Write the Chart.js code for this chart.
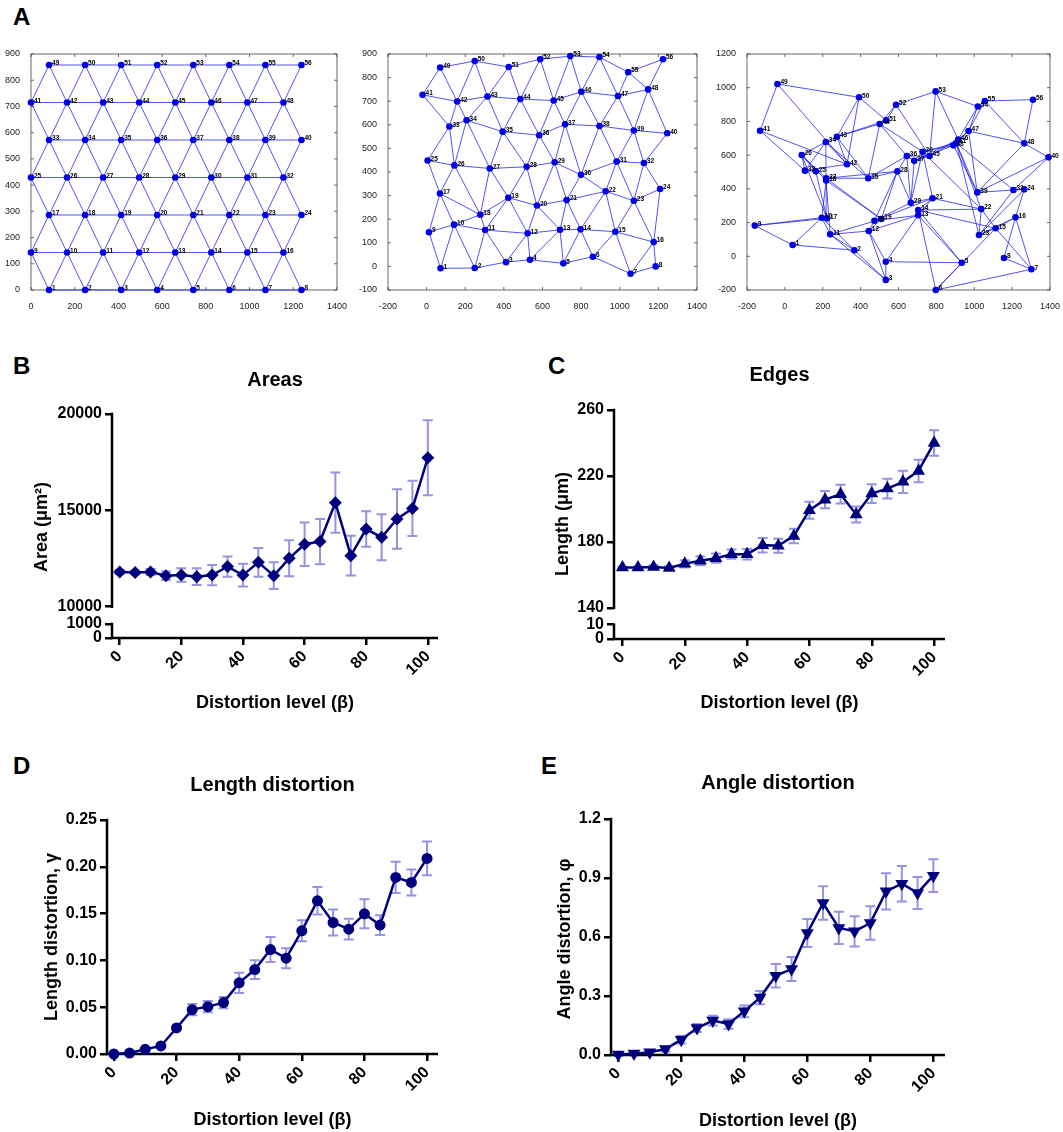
<!DOCTYPE html>
<html>
<head>
<meta charset="utf-8">
<script src="https://cdn.jsdelivr.net/npm/chart.js@4.4.1/dist/chart.umd.min.js"></script>
<style>
body { margin: 0; background: #fff; }
#fig { position: relative; width: 1063px; height: 1132px; overflow: hidden; font-family: "Liberation Sans", Arial, sans-serif; }
#fig canvas { position: absolute; }
.lbl { position: absolute; font-weight: bold; font-size: 24px; line-height: 24px; color: #000; }
</style>
</head>
<body>
<div id="fig">
  <div class="lbl" style="left:13px;top:5px">A</div>
  <div class="lbl" style="left:13px;top:354px">B</div>
  <div class="lbl" style="left:548px;top:354px">C</div>
  <div class="lbl" style="left:13px;top:754px">D</div>
  <div class="lbl" style="left:541px;top:754px">E</div>
  <canvas id="a1" width="350" height="270" style="left:0;top:40px"></canvas>
  <canvas id="a2" width="370" height="270" style="left:340px;top:40px"></canvas>
  <canvas id="a3" width="363" height="270" style="left:700px;top:40px"></canvas>
  <canvas id="b" width="530" height="400" style="left:0;top:330px"></canvas>
  <canvas id="c" width="533" height="400" style="left:530px;top:330px"></canvas>
  <canvas id="d" width="530" height="392" style="left:0;top:740px"></canvas>
  <canvas id="e" width="533" height="392" style="left:530px;top:740px"></canvas>
</div>
<script>
// ---- panel A: mesh node coordinates ----
var a1RowY = [0, 143, 286, 429, 572, 715, 858];
var a1OffsetX = [82.5, 247.5, 412.5, 577.5, 742.5, 907.5, 1072.5, 1237.5];
var a1EvenX = [0, 165, 330, 495, 660, 825, 990, 1155];

var a2X = [72, 249, 411, 535, 708, 861, 1056, 1186, 12, 142, 303, 523, 691, 797, 977, 1176,
           69, 278, 423, 571, 725, 927, 1073, 1209, 5, 144, 327, 518, 663, 799, 984, 1125,
           118, 207, 394, 583, 717, 895, 1073, 1246, -21, 158, 315, 485, 658, 801, 991, 1147,
           70, 249, 425, 588, 744, 895, 1044, 1224];
var a2Y = [-8, -7, 18, 28, 13, 41, -31, 0, 145, 177, 154, 140, 155, 157, 147, 103,
           309, 219, 291, 258, 281, 318, 278, 328, 449, 428, 415, 422, 441, 388, 444, 438,
           593, 619, 571, 556, 602, 595, 576, 564, 727, 699, 720, 709, 703, 740, 722, 750,
           843, 870, 845, 878, 891, 887, 823, 878];

var a3X = [41, 367, 533, 533, 934, 797, 1302, 1157, -159, 195, 239, 443, 704, 704, 1113, 1218,
           222, 218, 509, 473, 780, 1037, 1025, 1264, 163, 89, 218, 594, 665, 727, 905, 1207,
           106, 216, 440, 644, 683, 890, 1016, 1392, -131, 328, 275, 501, 764, 915, 970, 1264,
           -39, 392, 535, 587, 796, 1019, 1056, 1310];
var a3Y = [67, 36, -140, -32, -38, -200, -77, -10, 182, 229, 130, 150, 243, 274, 166, 231,
           225, 450, 221, 211, 344, 280, 126, 397, 504, 601, 463, 504, 318, 620, 672, 393,
           508, 678, 463, 595, 566, 658, 379, 587, 745, 546, 709, 785, 595, 692, 743, 670,
           1022, 943, 806, 899, 978, 889, 921, 929];

var a1XTicks = [0, 200, 400, 600, 800, 1000, 1200, 1400];
var a1YTicks = [0, 100, 200, 300, 400, 500, 600, 700, 800, 900];
var a2XTicks = [-200, 0, 200, 400, 600, 800, 1000, 1200, 1400];
var a2YTicks = [-100, 0, 100, 200, 300, 400, 500, 600, 700, 800, 900];
var a3XTicks = [-200, 0, 200, 400, 600, 800, 1000, 1200, 1400];
var a3YTicks = [-200, 0, 200, 400, 600, 800, 1000, 1200];

// ---- panels B-E ----
var distortion = [0, 5, 10, 15, 20, 25, 30, 35, 40, 45, 50, 55, 60, 65, 70, 75, 80, 85, 90, 95, 100];
var xTicks = [0, 20, 40, 60, 80, 100];

var areaMean = [11800, 11770, 11800, 11610, 11640, 11560, 11640, 12080, 11640, 12300, 11610,
                12510, 13240, 13380, 15400, 12650, 14030, 13600, 14550, 15100, 17730];
var areaErr = [100, 80, 160, 220, 350, 430, 530, 530, 590, 745, 690,
               935, 1125, 1175, 1560, 1030, 925, 1195, 1540, 1430, 1950];
var areaTicks = [10000, 15000, 20000];
var areaLowTicks = [0, 1000];

var edgeMean = [164.4, 164.4, 164.8, 164.2, 166.7, 168.5, 170.1, 172.5, 172.5, 178, 177.6,
                183.6, 199.2, 205.6, 208.9, 196.6, 209.3, 212.3, 216.4, 223, 240];
var edgeErr = [0.5, 0.5, 1, 1, 2.2, 2.7, 2.8, 2.8, 3.2, 4.4, 4.2,
               4.4, 5.2, 5.2, 5.7, 4.8, 5.7, 6, 6.7, 6.8, 7.7];
var edgeTicks = [140, 180, 220, 260];
var edgeLowTicks = [0, 10];

var lenMean = [0, 0.001, 0.005, 0.0086, 0.0278, 0.0474, 0.0506, 0.0549, 0.076, 0.0902, 0.1116,
               0.1024, 0.1316, 0.1637, 0.1405, 0.1334, 0.1498, 0.1377, 0.1887, 0.1833, 0.209];
var lenErr = [0, 0.001, 0.001, 0.0015, 0.002, 0.006, 0.006, 0.006, 0.0107, 0.01, 0.0134,
              0.0107, 0.0112, 0.0146, 0.014, 0.011, 0.0155, 0.0105, 0.0166, 0.0139, 0.018];
var lenTicks = [0, 0.05, 0.10, 0.15, 0.20, 0.25];

var angMean = [0.003, 0.007, 0.014, 0.03, 0.078, 0.137, 0.175, 0.158, 0.222, 0.292, 0.403,
               0.437, 0.62, 0.773, 0.646, 0.629, 0.671, 0.832, 0.871, 0.824, 0.912];
var angErr = [0.008, 0.008, 0.01, 0.012, 0.02, 0.02, 0.025, 0.024, 0.03, 0.034, 0.06,
              0.061, 0.071, 0.085, 0.082, 0.077, 0.085, 0.092, 0.09, 0.081, 0.083];
var angTicks = [0, 0.3, 0.6, 0.9, 1.2];

var family = '"Liberation Sans", Arial, Helvetica, sans-serif';
var navy = '#00007f';
var barColor = '#9494e0';
var nodeColor = '#0000e6';
var edgeColor = 'rgba(30,30,235,0.85)';

function tickList(arr) {
    return arr.map(function(v){ return {value: v}; });
}

// lattice connectivity: 7 rows of 8 nodes, even rows shifted half a cell
function latticeEdges() {
    var rows = 7, cols = 8, e = [];
    for (var r = 0; r < rows; r++) {
        for (var c = 0; c < cols; c++) {
            var i = r * cols + c;
            if (c < cols - 1) e.push([i, i + 1]);
            if (r < rows - 1) {
                var up = (r + 1) * cols;
                if (r % 2 == 0) {
                    e.push([i, up + c]);
                    if (c < cols - 1) e.push([i, up + c + 1]);
                } else {
                    if (c > 0) e.push([i, up + c - 1]);
                    e.push([i, up + c]);
                }
            }
        }
    }
    return e;
}
var edges = latticeEdges();

var a1X = [], a1Y = [];
for (var r = 0; r < a1RowY.length; r++) {
    var rowX = (r % 2 == 0) ? a1OffsetX : a1EvenX;
    for (var c = 0; c < rowX.length; c++) {
        a1X.push(rowX[c]);
        a1Y.push(a1RowY[r]);
    }
}

var meshBox = {
    id: 'meshBox',
    beforeDatasetsDraw: function(chart) {
        var a = chart.chartArea, ctx = chart.ctx, sx = chart.scales.x, sy = chart.scales.y;
        ctx.save();
        ctx.strokeStyle = '#444';
        ctx.lineWidth = 0.8;
        ctx.strokeRect(a.left, a.top, a.right - a.left, a.bottom - a.top);
        ctx.beginPath();
        sx.ticks.forEach(function(t){
            var px = sx.getPixelForValue(t.value);
            ctx.moveTo(px, a.bottom); ctx.lineTo(px, a.bottom - 3);
            ctx.moveTo(px, a.top); ctx.lineTo(px, a.top + 3);
        });
        sy.ticks.forEach(function(t){
            var py = sy.getPixelForValue(t.value);
            ctx.moveTo(a.left, py); ctx.lineTo(a.left + 3, py);
            ctx.moveTo(a.right, py); ctx.lineTo(a.right - 3, py);
        });
        ctx.stroke();
        ctx.restore();
    }
};

var nodeLabels = {
    id: 'nodeLabels',
    afterDatasetsDraw: function(chart) {
        var ctx = chart.ctx;
        var meta = chart.getDatasetMeta(0);
        ctx.save();
        ctx.fillStyle = '#000';
        ctx.font = 'bold 6.5px ' + family;
        ctx.textAlign = 'left';
        ctx.textBaseline = 'middle';
        meta.data.forEach(function(pt, i){
            ctx.fillText(String(i + 1), pt.x + 3, pt.y - 1.5);
        });
        ctx.restore();
    }
};

function meshPanel(id, p) {
    var datasets = [{
        data: p.xs.map(function(x, i){ return {x: x, y: p.ys[i]}; }),
        showLine: false,
        pointRadius: 3.3,
        pointBackgroundColor: nodeColor,
        pointBorderWidth: 0,
        clip: false,
        order: 0
    }];
    edges.forEach(function(e){
        datasets.push({
            data: [{x: p.xs[e[0]], y: p.ys[e[0]]}, {x: p.xs[e[1]], y: p.ys[e[1]]}],
            showLine: true,
            borderColor: edgeColor,
            borderWidth: 0.9,
            pointRadius: 0,
            clip: false,
            order: 1
        });
    });
    var tickFont = {family: family, size: 9};
    new Chart(document.getElementById(id), {
        type: 'scatter',
        data: {datasets: datasets},
        options: {
            responsive: false,
            animation: false,
            events: [],
            layout: {autoPadding: false, padding: {left: 0, top: 14, right: p.padR, bottom: 0}},
            plugins: {legend: {display: false}, tooltip: {enabled: false}},
            scales: {
                x: {
                    type: 'linear', min: p.xTicks[0], max: p.xTicks[p.xTicks.length - 1],
                    afterBuildTicks: function(s){ s.ticks = tickList(p.xTicks); },
                    afterFit: function(s){ s.height = 20; },
                    ticks: {font: tickFont, color: '#222', padding: 3, maxRotation: 0, autoSkip: false,
                            callback: function(v){ return String(v); }},
                    grid: {display: false},
                    border: {display: false}
                },
                y: {
                    type: 'linear', min: p.yTicks[0], max: p.yTicks[p.yTicks.length - 1],
                    afterBuildTicks: function(s){ s.ticks = tickList(p.yTicks); },
                    afterFit: function(s){ s.width = p.yWidth; },
                    ticks: {font: tickFont, color: '#222', padding: 3, autoSkip: false,
                            callback: function(v){ return String(v); }},
                    grid: {display: false},
                    border: {display: false}
                }
            }
        },
        plugins: [meshBox, nodeLabels]
    });
}

meshPanel('a1', {xs: a1X, ys: a1Y, xTicks: a1XTicks, yTicks: a1YTicks, yWidth: 31, padR: 10});
meshPanel('a2', {xs: a2X, ys: a2Y, xTicks: a2XTicks, yTicks: a2YTicks, yWidth: 48, padR: 11});
meshPanel('a3', {xs: a3X, ys: a3Y, xTicks: a3XTicks, yTicks: a3YTicks, yWidth: 47, padR: 13});

// ---- B-E helpers ----
var errorBars = {
    id: 'errorBars',
    beforeDatasetsDraw: function(chart, args, opts) {
        var meta = chart.getDatasetMeta(0);
        var ys = chart.scales[meta.yAxisID];
        var ds = chart.data.datasets[0].data;
        var ctx = chart.ctx;
        ctx.save();
        ctx.strokeStyle = barColor;
        ctx.lineWidth = 2;
        ctx.beginPath();
        meta.data.forEach(function(pt, i){
            var v = ds[i].y, e = opts.err[i];
            if (!e) return;
            var top = ys.getPixelForValue(v + e), bot = ys.getPixelForValue(v - e);
            ctx.moveTo(pt.x, top); ctx.lineTo(pt.x, bot);
            ctx.moveTo(pt.x - 5, top); ctx.lineTo(pt.x + 5, top);
            ctx.moveTo(pt.x - 5, bot); ctx.lineTo(pt.x + 5, bot);
        });
        ctx.stroke();
        ctx.restore();
    }
};

var axisLines = {
    id: 'axisLines',
    beforeDatasetsDraw: function(chart, args, opts) {
        var ctx = chart.ctx, a = chart.chartArea;
        ctx.save();
        ctx.strokeStyle = '#000';
        ctx.lineWidth = 2.5;
        ctx.beginPath();
        opts.yIds.forEach(function(id){
            var s = chart.scales[id], t = s.ticks;
            ctx.moveTo(a.left, s.getPixelForValue(t[0].value) + 1.25);
            ctx.lineTo(a.left, s.getPixelForValue(t[t.length - 1].value) - 1.25);
        });
        ctx.moveTo(a.left - 1.25, a.bottom);
        ctx.lineTo(a.right, a.bottom);
        ctx.stroke();
        ctx.restore();
    }
};

var sideTitle = {
    id: 'sideTitle',
    afterDraw: function(chart, args, opts) {
        var ctx = chart.ctx;
        ctx.save();
        ctx.translate(opts.x, opts.y);
        ctx.rotate(-Math.PI / 2);
        ctx.font = 'bold 18px ' + family;
        ctx.fillStyle = '#000';
        ctx.textAlign = 'center';
        ctx.textBaseline = 'middle';
        ctx.fillText(opts.text, 0, 0);
        ctx.restore();
    }
};

function linePanel(id, p) {
    var tickFont = {family: family, size: 16, weight: 'bold'};
    var tickGrid = {display: true, drawOnChartArea: false, drawTicks: true, tickLength: 7, lineWidth: 2.5, color: '#000'};
    var scales = {
        x: {
            type: 'linear', min: p.xMin, max: p.xMax,
            afterBuildTicks: function(s){ s.ticks = tickList(xTicks); },
            afterFit: function(s){ s.height = p.xHeight; },
            ticks: {font: tickFont, color: '#000', minRotation: 45, maxRotation: 45, padding: 2, autoSkip: false},
            grid: tickGrid,
            border: {display: false},
            title: {display: true, text: 'Distortion level (β)', color: '#000',
                    font: {family: family, size: 18, weight: 'bold'}, padding: {top: 0, bottom: p.xTitlePad}}
        }
    };
    // left boxes are stacked in reverse order, so the lower segment goes in first
    p.yAxes.slice().reverse().forEach(function(ax){
        var sc = {
            type: 'linear', position: 'left', min: ax.min, max: ax.max,
            afterBuildTicks: function(s){ s.ticks = tickList(ax.ticks); },
            afterFit: function(s){ s.width = p.yWidth; },
            ticks: {font: tickFont, color: '#000', padding: 3, autoSkip: false,
                    callback: function(v){ return v.toFixed(ax.digits); }},
            grid: tickGrid,
            border: {display: false}
        };
        if (ax.weight) {
            sc.stack = 'ys';
            sc.stackWeight = ax.weight;
        }
        scales[ax.id] = sc;
    });

    new Chart(document.getElementById(id), {
        type: 'line',
        data: {
            datasets: [{
                data: p.mean.map(function(v, i){ return {x: distortion[i], y: v}; }),
                yAxisID: p.yAxes[0].id,
                borderColor: navy,
                backgroundColor: navy,
                borderWidth: 2.5,
                pointStyle: p.pointStyle,
                pointRotation: p.rotation || 0,
                pointRadius: p.radius,
                pointBackgroundColor: navy,
                pointBorderColor: navy,
                pointBorderWidth: 0,
                tension: 0,
                clip: false
            }]
        },
        options: {
            responsive: false,
            animation: false,
            events: [],
            layout: {autoPadding: false, padding: {left: 0, top: 0, right: p.padR, bottom: 0}},
            plugins: {
                legend: {display: false},
                tooltip: {enabled: false},
                title: {display: true, text: p.title, fullSize: false, color: '#000',
                        font: {family: family, size: 20, weight: 'bold'},
                        padding: {top: p.titleTop, bottom: p.titleBottom}},
                errorBars: {err: p.err},
                axisLines: {yIds: p.yAxes.map(function(a){ return a.id; })},
                sideTitle: p.yTitle
            },
            scales: scales
        },
        plugins: [errorBars, axisLines, sideTitle]
    });
}

linePanel('b', {
    title: 'Areas', titleTop: 38, titleBottom: 22,
    mean: areaMean, err: areaErr, pointStyle: 'rectRot', radius: 6.5,
    xMin: -2.5, xMax: 103.3, xHeight: 92, xTitlePad: 16,
    yWidth: 112, padR: 92,
    yAxes: [
        {id: 'y', min: 9465, max: 20000, ticks: areaTicks, digits: 0, weight: 203},
        {id: 'y2', min: 0, max: 1500, ticks: areaLowTicks, digits: 0, weight: 21}
    ],
    yTitle: {text: 'Area (μm²)', x: 42, y: 197}
});

linePanel('c', {
    title: 'Edges', titleTop: 33, titleBottom: 23,
    mean: edgeMean, err: edgeErr, pointStyle: 'triangle', radius: 7.5,
    xMin: -2.7, xMax: 103.5, xHeight: 91, xTitlePad: 16,
    yWidth: 84, padR: 118,
    yAxes: [
        {id: 'y', min: 135, max: 260, ticks: edgeTicks, digits: 0, weight: 206},
        {id: 'y2', min: 0, max: 16, ticks: edgeLowTicks, digits: 0, weight: 23}
    ],
    yTitle: {text: 'Length (μm)', x: 33, y: 194}
});

linePanel('d', {
    title: 'Length distortion', titleTop: 33, titleBottom: 23,
    mean: lenMean, err: lenErr, pointStyle: 'circle', radius: 5.5,
    xMin: -2.2, xMax: 103.5, xHeight: 78, xTitlePad: 1,
    yWidth: 107, padR: 92,
    yAxes: [{id: 'y', min: 0, max: 0.25, ticks: lenTicks, digits: 2}],
    yTitle: {text: 'Length distortion, γ', x: 52, y: 197}
});

linePanel('e', {
    title: 'Angle distortion', titleTop: 31, titleBottom: 24,
    mean: angMean, err: angErr, pointStyle: 'triangle', rotation: 180, radius: 7.5,
    xMin: -2.3, xMax: 103.7, xHeight: 77, xTitlePad: 0,
    yWidth: 81, padR: 118,
    yAxes: [{id: 'y', min: 0, max: 1.2, ticks: angTicks, digits: 1}],
    yTitle: {text: 'Angle distortion, φ', x: 35, y: 199}
});
</script>
</body>
</html>
